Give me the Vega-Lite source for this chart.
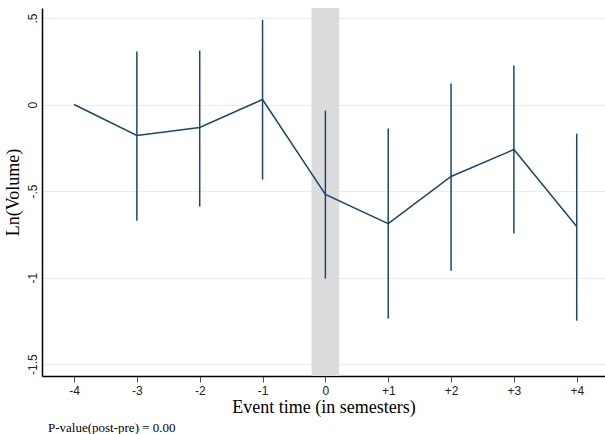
{
  "$schema": "https://vega.github.io/schema/vega-lite/v6.json",
  "width": 563,
  "height": 368,
  "autosize": {"type": "none"},
  "padding": {"left": 42, "top": 8, "right": 0, "bottom": 58},
  "background": "white",
  "config": {
    "view": {"stroke": null},
    "axis": {"domainColor": "#000000", "domainWidth": 1.5}
  },
  "title": {
    "text": "P-value(post-pre) = 0.00",
    "orient": "bottom",
    "anchor": "start",
    "frame": "group",
    "offset": 6,
    "dx": 6,
    "font": "Liberation Serif",
    "fontSize": 13,
    "fontWeight": "normal",
    "color": "#000000"
  },
  "datasets": {
    "pts": [
      {"t": -4, "b": 0, "lo": null, "hi": null},
      {"t": -3, "b": -0.179, "lo": -0.671, "hi": 0.306},
      {"t": -2, "b": -0.133, "lo": -0.59, "hi": 0.312},
      {"t": -1, "b": 0.029, "lo": -0.434, "hi": 0.49},
      {"t": 0, "b": -0.52, "lo": -1.006, "hi": -0.035},
      {"t": 1, "b": -0.688, "lo": -1.237, "hi": -0.139},
      {"t": 2, "b": -0.416, "lo": -0.96, "hi": 0.121},
      {"t": 3, "b": -0.26, "lo": -0.746, "hi": 0.225},
      {"t": 4, "b": -0.705, "lo": -1.249, "hi": -0.168}
    ],
    "band": [{"x1": -0.22, "x2": 0.22}]
  },
  "layer": [
    {
      "data": {"name": "band"},
      "mark": {"type": "rect", "color": "#dcdcdc"},
      "encoding": {
        "x": {"field": "x1", "type": "quantitative", "scale": {"domain": [-4.51, 4.45], "nice": false, "zero": false},
          "axis": {
            "values": [-4, -3, -2, -1, 0, 1, 2, 3, 4],
            "labelExpr": "datum.value > 0 ? '+' + datum.value : (datum.value < 0 ? '-' + abs(datum.value) : '0')",
            "grid": false,
            "tickColor": "#555555",
            "tickSize": 6,
            "labelFont": "Liberation Sans",
            "labelFontSize": 12,
            "labelColor": "#222222",
            "labelPadding": 3,
            "title": "Event time (in semesters)",
            "titleFont": "Liberation Serif",
            "titleFontSize": 18,
            "titleFontWeight": "normal",
            "titleColor": "#000000",
            "titlePadding": 2
          }
        },
        "x2": {"field": "x2"}
      }
    },
    {
      "data": {"name": "pts"},
      "transform": [{"filter": "datum.lo != null"}],
      "mark": {"type": "rule", "color": "#1a476f", "strokeWidth": 1.5},
      "encoding": {
        "x": {"field": "t", "type": "quantitative"},
        "y": {"field": "lo", "type": "quantitative"},
        "y2": {"field": "hi"}
      }
    },
    {
      "data": {"name": "pts"},
      "mark": {"type": "line", "color": "#1a476f", "strokeWidth": 1.5},
      "encoding": {
        "x": {"field": "t", "type": "quantitative"},
        "y": {"field": "b", "type": "quantitative",
          "scale": {"domain": [-1.569, 0.558], "nice": false, "zero": false},
          "axis": {
            "values": [0.5, 0, -0.5, -1, -1.5],
            "labelExpr": "datum.value == 0.5 ? '.5' : (datum.value == 0 ? '0' : (datum.value == -0.5 ? '-.5' : (datum.value == -1 ? '-1' : '-1.5')))",
            "grid": true,
            "gridColor": "#e6eef0",
            "gridWidth": 1.2,
            "ticks": false,
            "labelAngle": -90,
            "labelAlign": "center",
            "labelBaseline": "bottom",
            "labelFont": "Liberation Sans",
            "labelFontSize": 12,
            "labelColor": "#222222",
            "labelPadding": 3,
            "title": "Ln(Volume)",
            "titleFont": "Liberation Serif",
            "titleFontSize": 18,
            "titleFontWeight": "normal",
            "titleColor": "#000000",
            "titlePadding": 4
          }
        }
      }
    }
  ]
}
